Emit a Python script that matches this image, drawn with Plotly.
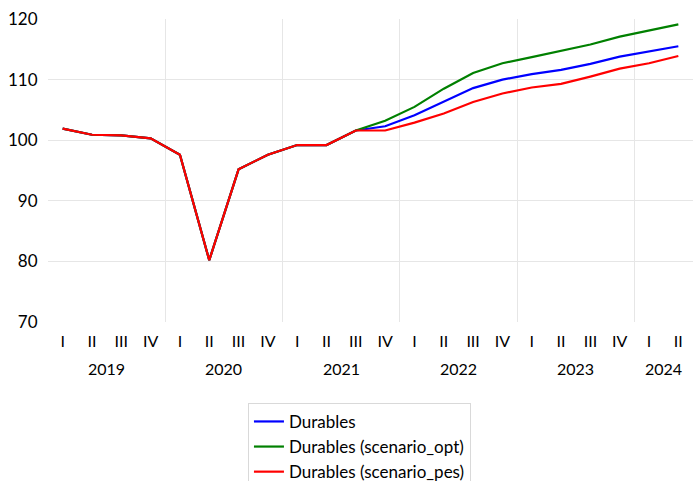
import plotly.graph_objects as go

# Quarterly index of durable goods consumption, 2019Q1 - 2024Q2
quarters = ["I", "II", "III", "IV"] * 5 + ["I", "II"]
years = ["2019", "2020", "2021", "2022", "2023", "2024"]

durables = [101.9, 100.9, 100.8, 100.3, 97.6, 80.2, 95.2, 97.6, 99.2, 99.2,
            101.6, 102.3, 104.1, 106.3, 108.6, 110.0, 110.9, 111.6, 112.6,
            113.8, 114.7, 115.5]
durables_opt = [101.9, 100.9, 100.8, 100.3, 97.6, 80.2, 95.2, 97.6, 99.2, 99.2,
                101.6, 103.2, 105.5, 108.5, 111.1, 112.7, 113.7, 114.8, 115.8,
                117.1, 118.1, 119.1]
durables_pes = [101.9, 100.9, 100.8, 100.3, 97.6, 80.2, 95.2, 97.6, 99.2, 99.2,
                101.6, 101.6, 102.9, 104.4, 106.3, 107.7, 108.7, 109.3, 110.5,
                111.8, 112.7, 113.9]

x = list(range(len(quarters)))
font = "Lato"

fig = go.Figure()
for name, vals, col in [("Durables", durables, "#0000ff"),
                        ("Durables (scenario_opt)", durables_opt, "#008000"),
                        ("Durables (scenario_pes)", durables_pes, "#ff0000")]:
    fig.add_trace(go.Scatter(x=x, y=vals, mode="lines", name=name,
                             line=dict(color=col, width=2.2)))

# year labels centred under each group of quarters
year_centres = []
for i, yr in enumerate(years):
    idx = [k for k in x if k // 4 == i]
    year_centres.append((idx[0] + idx[-1]) / 2)
for yr, c in zip(years, year_centres):
    fig.add_annotation(x=c, xref="x", y=-0.155, yref="paper", text=yr,
                       showarrow=False, yanchor="middle",
                       font=dict(family=font, size=16, color="#000"))

year_bounds = [4 * k - 0.5 for k in range(1, len(years))]

fig.update_layout(
    width=693, height=481,
    margin=dict(l=48, r=0, t=19, b=159, autoexpand=False),
    plot_bgcolor="white", paper_bgcolor="white",
    font=dict(family=font, color="#000"),
    showlegend=True,
    legend=dict(x=0.31, xanchor="left", y=-0.267, yanchor="top",
                bordercolor="#d9d9d9", borderwidth=1, bgcolor="white",
                font=dict(family=font, size=17, color="#000"),
                tracegroupgap=0, itemwidth=30),
    xaxis=dict(range=[-0.5, len(x) - 0.5], tickmode="array", tickvals=x,
               ticktext=quarters, showgrid=False, zeroline=False,
               showline=False, ticks="outside", ticklen=5, tickcolor="white",
               tickfont=dict(family=font, size=16, color="#000"),
               minor=dict(tickmode="array", tickvals=year_bounds,
                          showgrid=True, gridcolor="#e6e6e6", gridwidth=1,
                          ticks="")),
    yaxis=dict(range=[70, 120], tickmode="array",
               tickvals=[70, 80, 90, 100, 110, 120], showgrid=False,
               zeroline=False, showline=False, ticks="outside", ticklen=6,
               tickcolor="white",
               tickfont=dict(family=font, size=17, color="#000"),
               minor=dict(tickmode="array", tickvals=[80, 90, 100, 110],
                          showgrid=True, gridcolor="#e6e6e6", gridwidth=1,
                          ticks="")),
)

fig.write_html("out.html")
